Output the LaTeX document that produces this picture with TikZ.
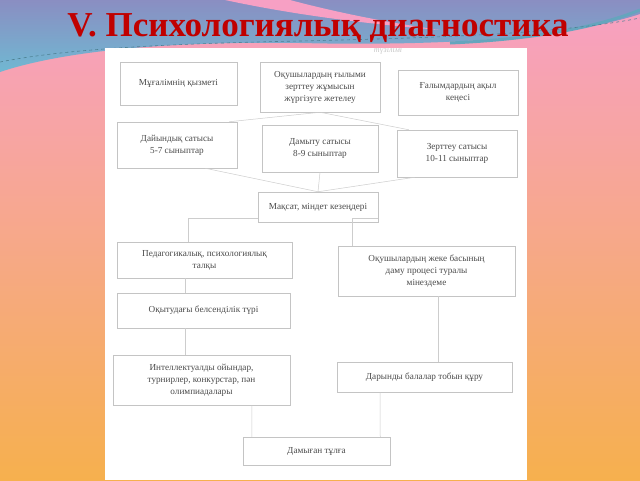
\documentclass[tikz,border=0pt]{standalone}
\usepackage{fontspec}
\setmainfont{Liberation Serif}
\usetikzlibrary{calc}
\definecolor{titlered}{HTML}{C00000}
\definecolor{bgpink}{HTML}{F7A0C4}
\definecolor{bgsalmon}{HTML}{F7A898}
\definecolor{bgorange}{HTML}{F6B04E}
\definecolor{bgblue}{HTML}{8A8EC2}
\definecolor{bgcyan}{HTML}{70B8D2}
\definecolor{boxgray}{HTML}{C4C4C4}
\definecolor{linegray}{HTML}{CDCDCD}
\definecolor{textgray}{HTML}{4A4A4A}
\tikzstyle{box}=[draw=boxgray,line width=0.5pt,align=center,text=textgray,font=\fontsize{9.2}{12}\selectfont,inner sep=2pt]
\tikzstyle{link}=[draw=linegray,line width=0.5pt]

\begin{document}
\begin{tikzpicture}[x=1pt,y=-1pt]
\useasboundingbox (0,0) rectangle (640,480);
% slide background
\shade[top color=bgpink,middle color=bgsalmon,bottom color=bgorange] (0,0) rectangle (640,480);
\shade[top color=bgblue,bottom color=bgcyan] (0,0) -- (640,0) -- (640,14)
  .. controls (560,40) and (430,46) .. (300,43)
  .. controls (160,41) and (60,52) .. (0,72) -- cycle;
\fill[bgpink] (225,0) .. controls (300,16) and (370,24) .. (440,30)
  .. controls (370,20) and (320,8) .. (290,0) -- cycle;
\draw[bgcyan!90!black,line width=3pt] (450,43) .. controls (540,39) and (600,26) .. (640,10);
\draw[bgcyan!70!black,dashed,line width=0.6pt] (0,62) .. controls (60,50) and (150,44) .. (300,41)
  .. controls (430,38) and (560,34) .. (640,18);
% title
\node[text=titlered,font=\fontsize{35}{38}\selectfont\bfseries] (title) at (318,28) {V. Психологиялық диагностика};
% scanned page
\fill[white] (105,48) rectangle (527,480);
\begin{scope}
\clip (105,48) rectangle (527,480);
\node[text=gray!45,font=\fontsize{8}{9}\selectfont\itshape] (cut) at (388,51) {түзілімі};
\end{scope}
% boxes
\node[box,minimum width=117pt,minimum height=43pt] (teacher) at (178.5,83.5) {Мұғалімнің қызметі};
\node[box,minimum width=120pt,minimum height=50pt] (research) at (320,87) {Оқушылардың ғылыми\\зерттеу жұмысын\\жүргізуге жетелеу};
\node[box,minimum width=120pt,minimum height=45pt] (advice) at (458,92.5) {Ғалымдардың ақыл\\кеңесі};
\node[box,minimum width=120pt,minimum height=46pt] (prep) at (177,145) {Дайындық сатысы\\5-7 сыныптар};
\node[box,minimum width=116pt,minimum height=47pt] (devel) at (320,148.5) {Дамыту сатысы\\8-9 сыныптар};
\node[box,minimum width=120pt,minimum height=47pt] (study) at (457,153.5) {Зерттеу сатысы\\10-11 сыныптар};
\node[box,minimum width=120pt,minimum height=30pt] (goal) at (318,207) {Мақсат, міндет кезеңдері};
\node[box,minimum width=175pt,minimum height=36pt] (talk) at (204.5,260) {Педагогикалық, психологиялық\\талқы};
\node[box,minimum width=177pt,minimum height=50pt] (review) at (426.5,271) {Оқушылардың жеке басының\\даму процесі туралы\\мінездеме};
\node[box,minimum width=173pt,minimum height=35pt] (active) at (203.5,310.5) {Оқытудағы белсенділік түрі};
\node[box,minimum width=177pt,minimum height=50pt] (games) at (201.5,380) {Интеллектуалды ойындар,\\турнирлер, конкурстар, пән\\олимпиадалары};
\node[box,minimum width=175pt,minimum height=30pt] (gifted) at (424.5,377) {Дарынды балалар тобын құру};
\node[box,minimum width=147pt,minimum height=28pt] (person) at (316.5,451) {Дамыған тұлға};
% connectors
\draw[link] (research.south) -- ([xshift=-8pt]prep.north east);
\draw[link] (research.south) -- ([xshift=12pt]study.north west);
\draw[link] ([xshift=-32pt]prep.south east) -- (goal.north);
\draw[link] (devel.south) -- (goal.north);
\draw[link] ([xshift=18pt]study.south west) -- (goal.north);
\draw[link] ([yshift=-11pt]goal.west) -| ([xshift=-16pt]talk.north);
\draw[link] ([yshift=-11pt]goal.east) -| ($(review.north west)+(14,0)$);
\draw[link] ([xshift=-19pt]talk.south) -- ([xshift=-18pt]active.north);
\draw[link] ([xshift=-18pt]active.south) -- ([xshift=-16pt]games.north);
\draw[link] ([xshift=11.5pt]review.south) -- ([xshift=13.5pt]gifted.north);
\draw[link] ([xshift=50.5pt]games.south) -- ([xshift=9pt]person.north west);
\draw[link] ([xshift=-44.5pt]gifted.south) -- ([xshift=-10pt]person.north east);
\end{tikzpicture}
\end{document}
